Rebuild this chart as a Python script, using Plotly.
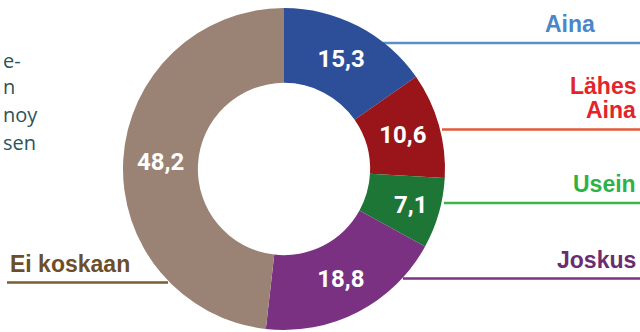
import plotly.graph_objects as go

categories = ["Aina", "Lähes Aina", "Usein", "Joskus", "Ei koskaan"]
values = [15.3, 10.6, 7.1, 18.8, 48.2]
value_labels = ["15,3", "10,6", "7,1", "18,8", "48,2"]
slice_colors = ["#2D4F9A", "#9A1519", "#1E7636", "#7A3182", "#9A8374"]

W, H = 640, 332
cx, cy, r = 284, 169, 161

fig = go.Figure()
fig.add_trace(go.Pie(
    labels=categories,
    values=values,
    text=value_labels,
    textinfo="text",
    textposition="inside",
    insidetextorientation="horizontal",
    sort=False,
    direction="clockwise",
    rotation=0,
    hole=0.535,
    marker=dict(colors=slice_colors, line=dict(width=0)),
    textfont=dict(family="Roboto", size=24, color="white", weight="bold"),
    showlegend=False,
    hoverinfo="label+value",
    domain=dict(x=[(cx - r) / W, (cx + r) / W],
                y=[(H - cy - r) / H, (H - cy + r) / H]),
))

def px_x(x):
    return x / W

def px_y(y):
    return 1 - y / H

shapes = []
lines = [
    (383, 640, 43, "#5A8FCC"),
    (442, 640, 129.5, "#E4593A"),
    (444, 640, 203, "#3DB54A"),
    (403, 640, 278.5, "#7A3580"),
    (7, 168, 282.5, "#7A5C35"),
]
for x0, x1, y, c in lines:
    shapes.append(dict(type="line", xref="paper", yref="paper",
                       x0=px_x(x0), x1=px_x(x1), y0=px_y(y), y1=px_y(y),
                       line=dict(color=c, width=2.5), layer="below"))

ann = []
def add_label(text, x, y, color, anchor="right", size=23):
    ann.append(dict(text=text, x=px_x(x), y=px_y(y), xref="paper", yref="paper",
                    xanchor=anchor, yanchor="middle", showarrow=False,
                    align=anchor,
                    font=dict(family="Liberation Sans", size=size, color=color, weight="bold")))

add_label("Aina", 597, 24, "#4A86C8")
add_label("Lähes", 638, 86, "#E3242B")
add_label("Aina", 638, 110, "#E3242B")
add_label("Usein", 638, 184, "#2DB24A")
add_label("Joskus", 638, 260, "#6B2C70")
add_label("Ei koskaan", 8, 264, "#6B4E2A", anchor="left")

side = [("e-", 1, 60), ("n", 1, 86), ("noy", 1, 114), ("sen", 1, 142)]
for t, x, y in side:
    ann.append(dict(text=t, x=px_x(x), y=px_y(y), xref="paper", yref="paper",
                    xanchor="left", yanchor="middle", showarrow=False,
                    font=dict(family="Open Sans", size=20, color="#2C5459")))

fig.update_layout(
    width=W, height=H,
    margin=dict(l=0, r=0, t=0, b=0),
    paper_bgcolor="white",
    plot_bgcolor="white",
    shapes=shapes,
    annotations=ann,
)

fig.write_html("out.html", config={"displayModeBar": False},
               post_script="document.body.style.margin='0';document.body.style.overflow='hidden';")
